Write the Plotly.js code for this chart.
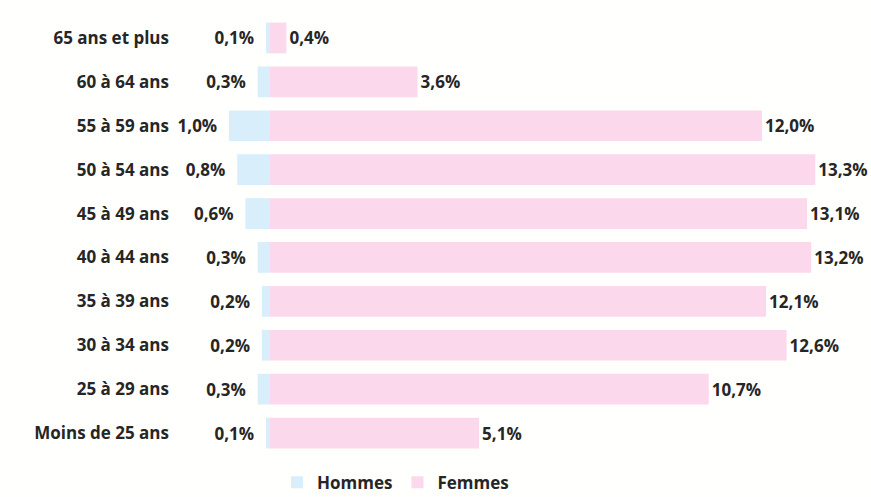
<!DOCTYPE html>
<html><head><meta charset="utf-8">
<script src="https://cdn.plot.ly/plotly-3.0.1.min.js"></script>
<style>html,body{margin:0;padding:0;background:#fffffd;}</style>
</head><body>
<div id="chart" style="width:871px;height:497px;"></div>
<script>
const categories = ["65 ans et plus","60 à 64 ans","55 à 59 ans","50 à 54 ans","45 à 49 ans","40 à 44 ans","35 à 39 ans","30 à 34 ans","25 à 29 ans","Moins de 25 ans"];
const hommes = [0.1,0.3,1.0,0.8,0.6,0.3,0.2,0.2,0.3,0.1];
const femmes = [0.4,3.6,12.0,13.3,13.1,13.2,12.1,12.6,10.7,5.1];
const fmt = v => v.toFixed(1).replace('.', ',') + '%';
const font = {family: "'Open Sans', sans-serif", size: 17, color: '#262626', weight: 'bold'};
const traces = [
  {type:'bar', orientation:'h', name:'Hommes', y:categories, x:hommes.map(v=>-v),
   text:hommes.map(v => fmt(v) + '  '), textposition:'outside', cliponaxis:false,
   textfont:font, marker:{color:'#d8eefa'}, hoverinfo:'none'},
  {type:'bar', orientation:'h', name:'Femmes', y:categories, x:femmes,
   text:femmes.map(fmt), textposition:'outside', cliponaxis:false,
   textfont:font, marker:{color:'#fcd8ec'}, hoverinfo:'none'}
];
const layout = {
  width:871, height:497,
  margin:{l:175, r:11, t:16, b:42, autoexpand:false},
  paper_bgcolor:'#fffffd', plot_bgcolor:'#fffffd',
  barmode:'relative', bargap:0.3,
  font: font,
  xaxis:{visible:false, range:[-2.317, 14.39], fixedrange:true},
  yaxis:{autorange:'reversed', showline:false, showgrid:false, zeroline:false, ticks:'', tickfont:font, ticklabelstandoff:5},
  showlegend:true,
  legend:{orientation:'h', x:0.322, xanchor:'center', y:-0.022, yanchor:'top', font:font, itemwidth:30},
};
Plotly.newPlot('chart', traces, layout, {displayModeBar:false, staticPlot:true});
</script>
</body></html>
